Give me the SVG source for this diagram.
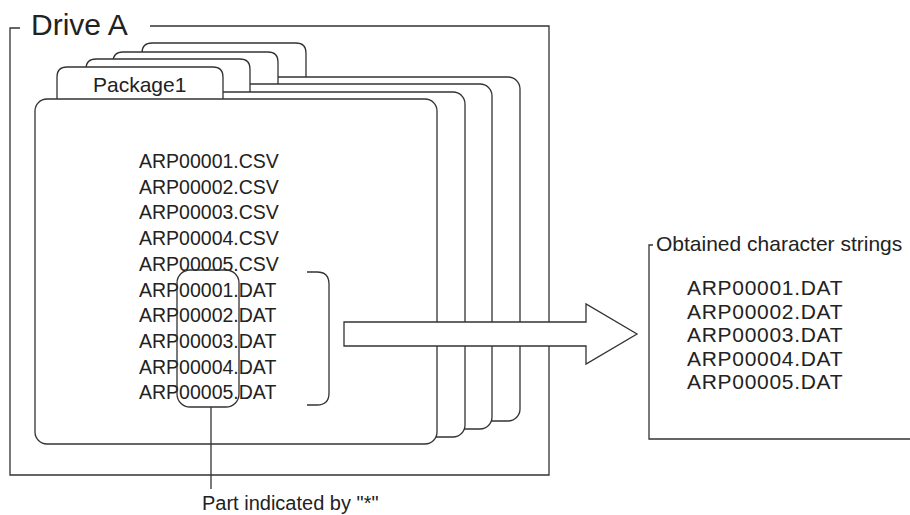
<svg xmlns="http://www.w3.org/2000/svg" width="910" height="515" viewBox="0 0 910 515">
<style>
.ln{fill:none;stroke:#333;stroke-width:1.3}
.pk{fill:#fff;stroke:#333;stroke-width:1.3}
.t{font-family:"Liberation Sans",Arial,sans-serif;fill:#222}
.f{font-size:19.5px}
.r{font-size:21px;letter-spacing:0.7px}
</style>
<rect width="910" height="515" fill="#fff"/>
<g id="driveA">
<path class="ln" d="M20,28 H10 V475 H549 V26 H150"/>
<text class="t" x="31" y="35" font-size="30">Drive A</text>
</g>
<g id="package4">
<path class="pk" d="M142,77 V53 Q142,43 152,43 H296 Q306,43 306,53 V77"/>
<rect class="pk" x="119" y="77" width="401" height="344" rx="12"/>
</g>
<g id="package3">
<path class="pk" d="M113,84 V62 Q113,52 123,52 H268 Q278,52 278,62 V84"/>
<rect class="pk" x="91" y="84" width="401" height="345" rx="12"/>
</g>
<g id="package2">
<path class="pk" d="M86,92 V69 Q86,59 96,59 H240 Q250,59 250,69 V92"/>
<rect class="pk" x="63" y="92" width="402" height="345" rx="12"/>
</g>
<g id="package1">
<path class="pk" d="M57,99 V77 Q57,67 67,67 H213 Q223,67 223,77 V99"/>
<rect class="pk" x="35" y="99" width="402" height="345" rx="12"/>
<text class="t" x="93" y="92" font-size="21">Package1</text>
<text class="t f" x="139" y="168">ARP00001.CSV</text>
<text class="t f" x="139" y="193.7">ARP00002.CSV</text>
<text class="t f" x="139" y="219.4">ARP00003.CSV</text>
<text class="t f" x="139" y="245.1">ARP00004.CSV</text>
<text class="t f" x="139" y="270.8">ARP00005.CSV</text>
<text class="t f" x="139" y="296.5">ARP00001.DAT</text>
<text class="t f" x="139" y="322.2">ARP00002.DAT</text>
<text class="t f" x="139" y="347.9">ARP00003.DAT</text>
<text class="t f" x="139" y="373.6">ARP00004.DAT</text>
<text class="t f" x="139" y="399.3">ARP00005.DAT</text>
</g>
<g id="connectors">
<rect class="ln" x="177" y="270" width="62" height="137" rx="13"/>
<path class="ln" d="M307,272 H317 Q329,272 329,284 V393 Q329,405 317,405 H307"/>
<line class="ln" x1="211" y1="407" x2="211" y2="489"/>
<polygon class="pk" points="344,322 586,322 586,304 637,334 586,364 586,346 344,346"/>
</g>
<g id="label">
<text class="t" x="202" y="510" font-size="20">Part indicated by "*"</text>
</g>
<g id="result">
<path class="ln" d="M653,245 H649 V439 H910"/>
<text class="t" x="656" y="251" font-size="21">Obtained character strings</text>
<text class="t r" x="687" y="295">ARP00001.DAT</text>
<text class="t r" x="687" y="318.5">ARP00002.DAT</text>
<text class="t r" x="687" y="342">ARP00003.DAT</text>
<text class="t r" x="687" y="365.5">ARP00004.DAT</text>
<text class="t r" x="687" y="389">ARP00005.DAT</text>
</g>
</svg>
